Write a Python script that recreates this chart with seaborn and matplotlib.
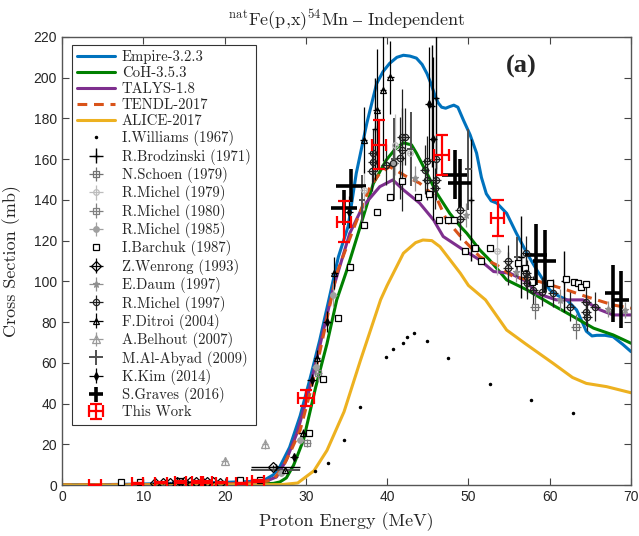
import matplotlib
matplotlib.use("Agg")
import matplotlib.pyplot as plt
import seaborn as sns
import pandas as pd

# ---------------- model calculations (E in MeV, cross section in mb) ----------------
empire_E = [0, 5, 10, 15, 20, 23, 25, 26, 26.8, 28, 29.3, 30.5, 31.7, 33, 34, 35.2, 36.2, 37.5,
            38.7, 39.5, 40.3, 41.2, 42, 42.8, 43.6, 44.3, 44.9, 45.4, 45.9, 46.3, 46.7, 47.2,
            47.7, 48.2, 48.7, 49.4, 50.2, 51, 51.6, 52.2, 52.8, 53.5, 54.7, 55.9, 57.2, 58.4, 60,
            61, 62.1, 63.3, 64, 64.5, 65.2, 65.8, 66.8, 67.8, 69, 70]
empire_S = [0, 0.2, 0.5, 1.0, 1.3, 1.7, 2.7, 5, 9, 18.5, 34, 52, 71, 94, 112, 127, 153, 177.6,
            197, 203, 207, 210, 211, 210.6, 209.6, 206.5, 202, 197, 191, 187.5, 185.5, 185,
            185.8, 186.5, 185.5, 179, 172, 163, 151, 143, 139.5, 138.4, 133.4, 123.6, 113.8,
            105.6, 95.8, 93, 90.9, 86, 80, 75.5, 73.2, 73.5, 73.5, 72.8, 69, 65.5]

coh_E = [0, 10, 20, 24, 26, 26.8, 27.6, 28.5, 29.7, 31.2, 32.6, 33.8, 35, 36.7, 38.3, 39.9, 41,
         42, 43, 43.6, 44.9, 46.1, 47.7, 49, 49.8, 51.4, 52.6, 54.7, 57.2, 60, 62.9, 65.4, 67.8, 70]
coh_S = [0, 0.1, 0.3, 0.5, 0.8, 1.5, 3.5, 9.8, 22, 47.9, 69.4, 90.9, 105, 127, 148, 159.6, 165,
         168, 167, 163, 153, 143.3, 133.4, 127, 123.6, 115.4, 110.5, 100.7, 95.8, 89.2, 82.7, 77,
         73.7, 69.6]

talys_E = [0, 10, 20, 24, 25.5, 26.4, 27.6, 28.9, 30.3, 31.7, 33.4, 35.4, 37, 39.1, 40.7, 42, 44,
           45.7, 46.9, 49.4, 51.4, 53.1, 55.1, 57.2, 58.4, 60.8, 64.1, 66.2, 67.8, 70]
talys_S = [0, 0.2, 0.6, 1.2, 2.5, 4, 12.3, 25.4, 45, 68, 97, 123.6, 136.7, 146.5, 149.8, 144.9,
           138.4, 130.2, 122, 115.4, 110.5, 104.8, 104, 99.8, 94.1, 90.9, 90.9, 86, 83.5, 83.5]

tendl_E = [0, 10, 20, 24, 26, 27.2, 28.3, 29.3, 30.5, 31.7, 33.8, 35.8, 37.9, 39.1, 40.3, 42.4,
           44, 46.1, 47.3, 49.4, 51.4, 53.5, 55.5, 58.8, 62.1, 64.5, 67.8, 70]
tendl_S = [0, 0.2, 0.5, 1, 2.5, 9, 18, 27, 45, 65, 104, 125.2, 146.5, 153, 156.3, 151.4,
           148.2, 140.8, 130.2, 120.3, 112.1, 108, 102.3, 99.8, 95.8, 92.5, 88.4, 86.8]

alice_E = [0, 20, 27, 29, 31, 32.6, 34.7, 36.7, 39.2, 40, 42, 43.5, 44.4, 45.5, 46.5, 49, 50,
           52.1, 54.7, 57, 60.4, 62.8, 64.5, 67, 70]
alice_S = [0, 0, 0.2, 1, 7, 17, 36, 61, 91, 98, 113.8, 119, 120.3, 120, 117, 104, 98,
           90.9, 76.1, 69.4, 59.8, 52.8, 49.9, 48.3, 45.3]

# ---------------- experimental data ----------------
williams_E = [31.1, 32.7, 34.7, 36.7, 39.9, 40.7, 42.0, 42.4, 43.3, 44.9, 47.5, 52.7, 57.7, 62.9]
williams_S = [6.9, 11.0, 22.2, 38.3, 62.8, 66.7, 69.8, 72.8, 74.8, 70.7, 62.6, 49.5, 41.6, 35.3]

brodzinski_E = [26.3, 38.5, 45.5, 46.0, 50.3, 56.5, 61.8]
brodzinski_S = [9.0, 175, 186, 190, 140, 112, 100]
brodzinski_dE = [3.0, 0.3, 0.3, 0.3, 0.3, 0.3, 0.3]
brodzinski_dS = [0.5, 25, 30, 35, 30, 20, 15]

schoen_E = [58.2, 63.2]
schoen_S = [87.6, 77.8]
schoen_dE = [0.6, 0.6]
schoen_dS = [6, 6]

michel79_E = [37.1, 41.0, 42.8, 53.5]
michel79_S = [145, 167, 163, 115]
michel79_dE = [0.4, 0.4, 0.4, 0.5]
michel79_dS = [10, 15, 15, 12]

michel80_E = [30.1, 31.5]
michel80_S = [20.8, 55]
michel80_dE = [0.5, 0.5]
michel80_dS = [2, 4]

michel85_E = [26.9, 29.3, 31.2, 33.4, 40.9]
michel85_S = [6, 22.1, 58.1, 93.3, 158]
michel85_dE = [0.4, 0.4, 0.4, 0.4, 0.4]
michel85_dS = [0.6, 2, 4, 6, 10]

barchuk_E = [7.3, 9.6, 14.5, 21.9, 24.4, 30.4, 32.1, 34.0, 35.4, 37.1, 38.8, 40.3, 41.8, 43.8,
             45.2, 46.4, 47.5, 48.2, 49.6, 50.8, 51.5, 52.6, 56.1, 57.0, 57.8, 60.0, 62.0, 63.0,
             63.5, 63.9, 64.5]
barchuk_S = [1.5, 1.5, 2.0, 2.5, 2.5, 25.5, 52.2, 82.0, 107.2, 127.5, 134.0, 141.6, 149.3, 141.6,
             142.8, 130.2, 130.2, 130.2, 115.1, 116.6, 110.2, 116.3, 109.2, 106.6, 99.9, 99.4,
             101.0, 99.9, 99.0, 97.1, 98.7]

wenrong_E = [11.5, 12.4, 13.3, 14.2, 15.0, 15.8, 16.5, 17.2, 17.9, 18.6, 19.4, 26.0]
wenrong_S = [0.8, 1.0, 1.2, 1.3, 1.5, 1.6, 1.7, 1.6, 1.5, 1.4, 1.2, 9.0]
wenrong_dE = [0.4] * 12
wenrong_dS = [0.3] * 11 + [0.8]

daum_E = [43.4, 49.7, 55.9, 61.3, 67.2, 69.2]
daum_S = [150.6, 132.6, 104.8, 91.0, 86.3, 86.0]
daum_dE = [0.3] * 6
daum_dS = [6, 6, 5, 5, 4, 4]

michel97_E = [38.3, 38.3, 38.1, 39.9, 40.7, 41.8, 42.2, 41.6, 41.8, 44.6, 44.9, 44.9, 45.9, 46.0,
              46.0, 49.0, 49.0, 54.9, 54.9, 57.1, 57.1, 57.2, 57.2, 58.0, 59.0, 60.4, 62.5, 64.5,
              64.5, 64.6, 65.6]
michel97_S = [162.9, 158.8, 154.4, 157.2, 158.0, 171.0, 171.0, 160.5, 164.5, 154.7, 159.3, 149.8,
              145.7, 160.0, 149.8, 135.0, 130.5, 110.0, 106.4, 114.1, 104.0, 102.3, 99.4, 95.8,
              95.0, 94.2, 87.6, 90.0, 85.1, 82.4, 87.6]
michel97_dE = [0.6] * 31
michel97_dS = [12, 10, 10, 10, 10, 14, 14, 20, 30, 12, 12, 10, 10, 12, 10, 10, 10, 8, 8, 8, 8,
               8, 8, 7, 7, 7, 7, 7, 7, 7, 7]

ditroi_E = [27.4, 29.6, 31.4, 33.5, 37.1, 38.7, 39.5, 40.4]
ditroi_S = [7.4, 25.4, 62.5, 104, 169.4, 184.2, 194, 200.2]
ditroi_dE = [0.4] * 8
ditroi_dS = [1, 2, 4, 8, 16, 30, 35, 18]

belhout_E = [20.0, 25.0]
belhout_S = [11.9, 20.1]
belhout_dE = [0.4, 0.4]
belhout_dS = [2, 2.5]

alabyad_E = [26.3, 36.9, 40.9, 42.9, 50.0, 56.0]
alabyad_S = [7.4, 140, 160, 165, 155, 112]
alabyad_dE = [3.0, 0.4, 0.4, 0.4, 0.4, 0.4]
alabyad_dS = [0.5, 12, 20, 18, 20, 10]

kim_E = [28.5, 30.7, 32.6, 35.3, 45.1, 45.6]
kim_S = [13.6, 51.6, 80.2, 134, 187, 170]
kim_dE = [0.5] * 6
kim_dS = [1, 3, 5, 8, 28, 40]

graves_E = [34.7, 35.6, 48.3, 49.0, 58.3, 59.4, 67.8, 68.8]
graves_S = [136.2, 147, 152.3, 148.2, 113, 110, 94.2, 90.9]
graves_dE = [1.6, 1.85, 1.5, 1.5, 1.4, 1.4, 1.0, 1.0]
graves_dS = [8.6, 8, 12, 12, 15, 15, 14, 14]

work_E = [4.1, 9.3, 12.2, 14.6, 16.7, 17.8, 19.6, 22.1, 24.1, 30.0, 34.7, 39.0, 46.7, 53.6]
work_S = [0.1, 0.8, 1.1, 1.5, 1.5, 1.5, 1.2, 0.8, 2.0, 42.6, 129.3, 167, 162, 131]
work_dE = [0.75, 0.7, 0.7, 0.7, 0.7, 0.7, 0.7, 0.7, 0.7, 1.0, 0.9, 0.9, 0.9, 0.8]
work_dS = [0.1, 0.2, 0.2, 0.3, 0.3, 0.3, 0.3, 0.2, 0.4, 4, 10, 12, 10, 8.7]

# ---------------- style ----------------
sns.set_style("ticks")
plt.rcParams["font.family"] = ["cmr10", "DejaVu Serif"]
plt.rcParams["mathtext.fontset"] = "cm"
plt.rcParams["axes.unicode_minus"] = False
plt.rcParams["axes.formatter.use_mathtext"] = False

fig = plt.figure(figsize=(6.39, 5.36), dpi=100)
ax = fig.add_axes([0.097, 0.0951, 0.8905, 0.836])

models = [
    ("Empire-3.2.3", empire_E, empire_S, "#0072BD", "-"),
    ("CoH-3.5.3", coh_E, coh_S, "#008000", "-"),
    ("TALYS-1.8", talys_E, talys_S, "#7E2F8E", "-"),
    ("TENDL-2017", tendl_E, tendl_S, "#D95319", "--"),
    ("ALICE-2017", alice_E, alice_S, "#EDB120", "-"),
]
handles, labels = [], []
for name, xs, ys, col, ls in models:
    df = pd.DataFrame({"E": xs, "S": ys})
    sns.lineplot(data=df, x="E", y="S", ax=ax, color=col, lw=2.2, linestyle=ls,
                 zorder=2, legend=False)
    h = ax.lines[-1]
    h.set_solid_joinstyle("round")
    if ls == "--":
        h.set_dashes((3.2, 2.2))
    handles.append(h)
    labels.append(name)


def data_set(E, S, dE, dS, label, color, marker, ms, mfc="none", lw=0.9):
    c = ax.errorbar(E, S, xerr=dE, yerr=dS, fmt=marker, color=color, ms=ms, mfc=mfc,
                    mec=color, mew=0.9, elinewidth=lw, capsize=0, zorder=3)
    handles.append(c)
    labels.append(label)


# markers only
h = ax.errorbar(williams_E, williams_S, fmt=".", color="black", ms=3, zorder=3)
handles.append(h); labels.append("I.Williams (1967)")
data_set(brodzinski_E, brodzinski_S, brodzinski_dE, brodzinski_dS, "R.Brodzinski (1971)",
         "black", "+", 4, lw=1.0)
data_set(schoen_E, schoen_S, schoen_dE, schoen_dS, "N.Schoen (1979)", "#707070", "s", 4)
data_set(michel79_E, michel79_S, michel79_dE, michel79_dS, "R.Michel (1979)", "#bdbdbd", "o", 4)
data_set(michel80_E, michel80_S, michel80_dE, michel80_dS, "R.Michel (1980)", "#808080", "s", 4)
data_set(michel85_E, michel85_S, michel85_dE, michel85_dS, "R.Michel (1985)", "#a0a0a0", "o", 4,
         mfc="#a0a0a0")
h = ax.errorbar(barchuk_E, barchuk_S, fmt="s", color="black", ms=4, mfc="white", mew=0.9,
                zorder=3)
handles.append(h); labels.append("I.Barchuk (1987)")
data_set(wenrong_E, wenrong_S, wenrong_dE, wenrong_dS, "Z.Wenrong (1993)", "black", "D", 5)
data_set(daum_E, daum_S, daum_dE, daum_dS, "E.Daum (1997)", "#909090", "*", 5, mfc="#909090")
data_set(michel97_E, michel97_S, michel97_dE, michel97_dS, "R.Michel (1997)", "#202020", "o", 4.5)
data_set(ditroi_E, ditroi_S, ditroi_dE, ditroi_dS, "F.Ditroi (2004)", "black", "^", 4)
data_set(belhout_E, belhout_S, belhout_dE, belhout_dS, "A.Belhout (2007)", "#9a9a9a", "^", 6)
data_set(alabyad_E, alabyad_S, alabyad_dE, alabyad_dS, "M.Al-Abyad (2009)", "#505050", "none", 1,
         lw=1.4)
data_set(kim_E, kim_S, kim_dE, kim_dS, "K.Kim (2014)", "black", "d", 4, mfc="black")
data_set(graves_E, graves_S, graves_dE, graves_dS, "S.Graves (2016)", "black", "none", 1, lw=2.6)

c = ax.errorbar(work_E, work_S, xerr=work_dE, yerr=work_dS, fmt="none", ecolor="red",
                elinewidth=1.6, capsize=4, capthick=1.6, zorder=5)
handles.append(c); labels.append("This Work")

# ---------------- axes ----------------
ax.set_xlim(0, 70)
ax.set_ylim(0, 220)
ax.set_xticks(range(0, 71, 10))
ax.set_yticks(range(0, 221, 20))
ax.tick_params(direction="in", top=True, right=True, length=5, width=0.8, color="#444444",
               labelsize=10)
for lab in ax.get_xticklabels() + ax.get_yticklabels():
    lab.set_fontfamily("Liberation Sans")
for sp in ax.spines.values():
    sp.set_color("#555555")
    sp.set_linewidth(1.0)

ax.set_xlabel("Proton Energy (MeV)", fontsize=13, labelpad=6)
ax.set_ylabel("Cross Section (mb)", fontsize=13, labelpad=9)
ax.set_title(r"$^{\mathrm{nat}}\mathrm{Fe(p{,}x)}^{54}\mathrm{Mn}\ \endash\ \mathrm{Independent}$",
             fontsize=13, pad=8)
ax.text(0.807, 0.933, "(a)", transform=ax.transAxes, fontsize=19, fontweight="bold",
        family=["Liberation Serif"], ha="center", va="center")

leg = ax.legend(handles, labels, loc="upper left", bbox_to_anchor=(0.017, 0.983),
                fontsize=10.6, frameon=True, fancybox=False, edgecolor="black",
                handlelength=2.6, handletextpad=0.45, labelspacing=0.16, borderpad=0.35,
                borderaxespad=0.0)
leg.get_frame().set_linewidth(0.8)

fig.savefig("out.png", dpi=100)
